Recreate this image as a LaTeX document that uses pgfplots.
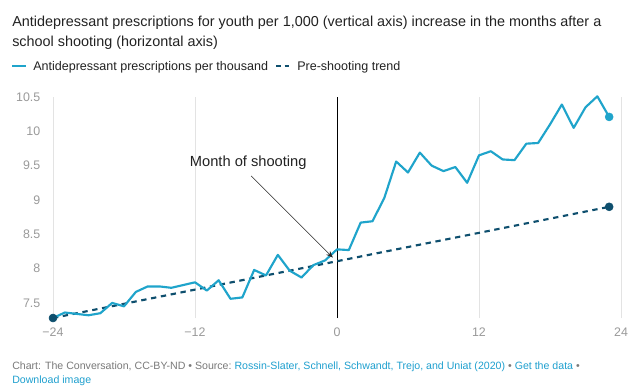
\documentclass[border=0pt]{standalone}
\usepackage{fontspec}
\setmainfont{Liberation Sans}
\usepackage{pgfplots}
\usepackage{pgfplotstable}
\pgfplotsset{compat=1.18}
\usetikzlibrary{arrows.meta}
\definecolor{lineblue}{HTML}{1FA4CB}
\definecolor{trendblue}{HTML}{0E4F6E}
\definecolor{tickgray}{HTML}{9A9A9A}
\definecolor{gridgray}{HTML}{E3E3E3}
\definecolor{footgray}{HTML}{7A7A7A}
\definecolor{linkblue}{HTML}{1FA0CF}
\definecolor{titlegray}{HTML}{222222}

\pgfplotstableread{
m v
-24 7.28
-23 7.36
-22 7.34
-21 7.32
-20 7.35
-19 7.50
-18 7.45
-17 7.66
-16 7.74
-15 7.74
-14 7.72
-13 7.76
-12 7.80
-11 7.68
-10 7.83
-9 7.56
-8 7.58
-7 7.98
-6 7.90
-5 8.20
-4 7.97
-3 7.87
-2 8.05
-1 8.12
0 8.28
1 8.27
2 8.67
3 8.69
4 9.03
5 9.56
6 9.40
7 9.69
8 9.50
9 9.42
10 9.48
11 9.25
12 9.65
13 9.71
14 9.59
15 9.58
16 9.82
17 9.83
18 10.10
19 10.39
20 10.05
21 10.35
22 10.51
23 10.21
}\actual

\pgfplotstableread{
m v
-24 7.28
23 8.90
}\trend

\begin{document}
\begin{tikzpicture}
% canvas: 640 x 387 px, 1px = 0.75pt, origin top-left
\path[fill=white] (0,0) rectangle (480pt,-290.25pt);

% title
\node[anchor=base west, inner sep=0pt, text=titlegray, font=\fontsize{10.8pt}{12pt}\selectfont] at (9pt,-20pt)
  {Antidepressant prescriptions for youth per 1,000 (vertical axis) increase in the months after a};
\node[anchor=base west, inner sep=0pt, text=titlegray, font=\fontsize{10.8pt}{12pt}\selectfont] at (9pt,-35pt)
  {school shooting (horizontal axis)};

% legend
\draw[lineblue, line width=1.5pt] (9pt,-49.5pt) -- (19.5pt,-49.5pt);
\node[anchor=base west, inner sep=0pt, text=titlegray, font=\fontsize{9.4pt}{10pt}\selectfont] at (24.75pt,-53pt)
  {Antidepressant prescriptions per thousand};
\draw[trendblue, line width=1.5pt, dash pattern=on 3.5pt off 3pt] (207pt,-49.5pt) -- (218pt,-49.5pt);
\node[anchor=base west, inner sep=0pt, text=titlegray, font=\fontsize{9.4pt}{10pt}\selectfont] at (222.75pt,-53pt)
  {Pre-shooting trend};

\begin{axis}[
  at={(39.75pt,-238.5pt)}, anchor=south west,
  scale only axis, width=426pt, height=165.75pt,
  xmin=-24, xmax=24, ymin=7.28, ymax=10.5,
  clip=false,
  axis line style={draw=none},
  xtick={-24,-12,0,12,24},
  xticklabels={−24,−12,0,12,24},
  ytick={7.5,8,8.5,9,9.5,10,10.5},
  yticklabels={7.5,8,8.5,9,9.5,10,10.5},
  major tick length=0pt,
  tick label style={text=tickgray, font=\fontsize{9.3pt}{10pt}\selectfont},
  xticklabel style={yshift=-4pt},
  yticklabel style={xshift=-6pt},
  /pgf/number format/assume math mode=true,
]
% vertical grid lines
\foreach \xx in {-24,-12,12,24}{
  \edef\tmp{\noexpand\draw[gridgray, line width=0.6pt] (axis cs:\xx,7.28) -- (axis cs:\xx,10.5);}
  \tmp
}
\draw[black, line width=0.7pt] (axis cs:0,7.28) -- (axis cs:0,10.5);

\addplot[trendblue, line width=1.6pt, dash pattern=on 4pt off 3.5pt] table[x=m,y=v] {\trend};
\addplot[lineblue, line width=1.6pt, line join=round] table[x=m,y=v] {\actual};
\addplot[only marks, mark=*, mark size=3pt, lineblue, mark options={fill=lineblue, draw=lineblue}] coordinates {(23,10.21)};
\addplot[only marks, mark=*, mark size=3pt, trendblue, mark options={fill=trendblue, draw=trendblue}] coordinates {(-24,7.28) (23,8.90)};

% annotation
\node[anchor=center, inner sep=0pt, text=titlegray, font=\fontsize{11pt}{12pt}\selectfont] at (axis cs:-7.5,9.54) {Month of shooting};
\draw[-{Stealth[length=5pt,width=4pt]}, black!85, line width=0.5pt] (axis cs:-7.25,9.35) -- (axis cs:-0.35,8.16);
\end{axis}

% footer
\node[anchor=base west, inner sep=0pt, font=\fontsize{7.95pt}{10pt}\selectfont] at (9pt,-277pt)
  {\textcolor{footgray}{Chart: The Conversation, CC-BY-ND~\textbullet~Source:~}\textcolor{linkblue}{Rossin-Slater, Schnell, Schwandt, Trejo, and Uniat (2020)}\textcolor{footgray}{~\textbullet~}\textcolor{linkblue}{Get the data}\textcolor{footgray}{~\textbullet}};
\node[anchor=base west, inner sep=0pt, font=\fontsize{7.95pt}{10pt}\selectfont] at (9pt,-287.5pt)
  {\textcolor{linkblue}{Download image}};
\end{tikzpicture}
\end{document}
